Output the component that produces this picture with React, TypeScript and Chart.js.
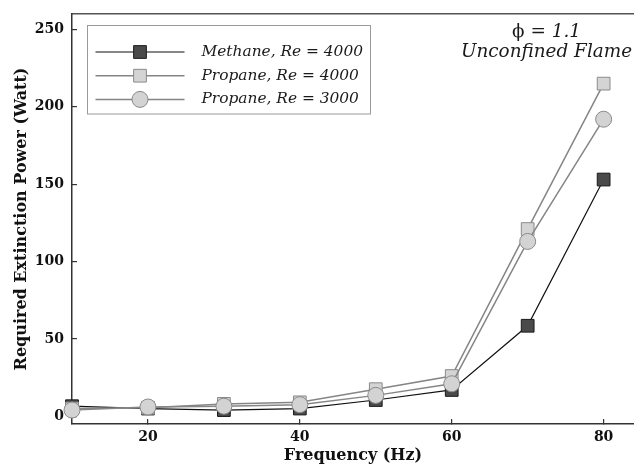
import React, { useEffect, useRef } from "react";
import { Chart, registerables } from "chart.js";

Chart.register(...registerables);

const frequencies = [10, 20, 30, 40, 50, 60, 70, 80];
const methaneRe4000 = [6.5, 5, 4, 5, 10.5, 17, 58.5, 153];
const propaneRe4000 = [5, 5.5, 8, 9, 17.5, 26, 121, 215];
const propaneRe3000 = [4, 6, 6.5, 7.5, 13.5, 21, 113, 192];
const seriesLabels = ["Methane, Re = 4000", "Propane, Re = 4000", "Propane, Re = 3000"];
const xTicks = [20, 40, 60, 80];
const yTicks = [0, 50, 100, 150, 200, 250];
const xTitle = "Frequency (Hz)";
const yTitle = "Required Extinction Power (Watt)";
const phiSymbol = "ϕ";
const phiValue = " = 1.1";
const flameNote = "Unconfined Flame";

const SERIF = "'DejaVu Serif', 'Liberation Serif', serif";

const toPoints = (ys: number[]) => frequencies.map((x, i) => ({ x, y: ys[i] }));

const zeroPad = (s: any) => {
  s.paddingLeft = 0;
  s.paddingRight = 0;
  s.paddingTop = 0;
  s.paddingBottom = 0;
};

const legendPlugin = {
  id: "boxLegend",
  afterDatasetsDraw(chart: any) {
    const { ctx, chartArea } = chart;
    const bx = chartArea.left + 15.5;
    const by = chartArea.top + 11.5;
    const bw = 283;
    const bh = 88.5;
    ctx.save();
    ctx.fillStyle = "#ffffff";
    ctx.fillRect(bx, by, bw, bh);
    ctx.strokeStyle = "#9a9a9a";
    ctx.lineWidth = 1;
    ctx.strokeRect(bx, by, bw, bh);
    chart.data.datasets.forEach((ds: any, i: number) => {
      const y = by + 26.5 + i * 23.7;
      ctx.strokeStyle = ds.borderColor;
      ctx.lineWidth = ds.borderWidth;
      ctx.beginPath();
      ctx.moveTo(bx + 8, y);
      ctx.lineTo(bx + 97, y);
      ctx.stroke();
      const mx = bx + 52.5;
      ctx.fillStyle = ds.pointBackgroundColor;
      ctx.strokeStyle = ds.pointBorderColor;
      ctx.lineWidth = ds.pointBorderWidth;
      ctx.beginPath();
      if (ds.pointStyle === "circle") {
        ctx.arc(mx, y, ds.pointRadius, 0, Math.PI * 2);
      } else {
        const s = ds.pointRadius * Math.SQRT1_2;
        ctx.rect(mx - s, y - s, 2 * s, 2 * s);
      }
      ctx.fill();
      ctx.stroke();
      ctx.fillStyle = "#1a1a1a";
      ctx.font = `italic 15.4px ${SERIF}`;
      ctx.textAlign = "left";
      ctx.textBaseline = "middle";
      ctx.fillText(ds.label, bx + 114, y);
    });
    ctx.restore();
  },
};

const notePlugin = {
  id: "note",
  afterDraw(chart: any) {
    const { ctx, chartArea } = chart;
    const cx = chartArea.right - 87.5;
    ctx.save();
    ctx.fillStyle = "#1a1a1a";
    ctx.textBaseline = "alphabetic";
    ctx.textAlign = "left";
    const fPhi = `18.4px ${SERIF}`;
    const fIt = `italic 18.4px ${SERIF}`;
    ctx.font = fPhi;
    const w1 = ctx.measureText(phiSymbol).width;
    ctx.font = fIt;
    const w2 = ctx.measureText(phiValue).width;
    const x0 = cx - (w1 + w2) / 2;
    const y1 = chartArea.top + 23;
    ctx.font = fPhi;
    ctx.fillText(phiSymbol, x0, y1);
    ctx.font = fIt;
    ctx.fillText(phiValue, x0 + w1, y1);
    ctx.textAlign = "center";
    ctx.fillText(flameNote, cx, chartArea.top + 43);
    ctx.restore();
  },
};

export default function App() {
  const ref = useRef<HTMLCanvasElement | null>(null);
  useEffect(() => {
    if (!ref.current) return;
    const axisColor = "#333333";
    const tickFont = { family: SERIF, size: 14, weight: "bold" as const };
    const titleFont = { family: SERIF, size: 16, weight: "bold" as const, lineHeight: 1.2 };
    const chart = new Chart(ref.current, {
      type: "line",
      data: {
        datasets: [
          {
            label: seriesLabels[0],
            data: toPoints(methaneRe4000),
            borderColor: "#111111",
            borderWidth: 1.2,
            pointStyle: "rect",
            pointRadius: 9,
            pointBackgroundColor: "#4a4a4a",
            pointBorderColor: "#1a1a1a",
            pointBorderWidth: 1,
            order: 2,
            clip: false,
          },
          {
            label: seriesLabels[1],
            data: toPoints(propaneRe4000),
            borderColor: "#858585",
            borderWidth: 1.5,
            pointStyle: "rect",
            pointRadius: 9,
            pointBackgroundColor: "#d4d4d4",
            pointBorderColor: "#8a8a8a",
            pointBorderWidth: 1,
            order: 1,
            clip: false,
          },
          {
            label: seriesLabels[2],
            data: toPoints(propaneRe3000),
            borderColor: "#858585",
            borderWidth: 1.5,
            pointStyle: "circle",
            pointRadius: 8,
            pointBackgroundColor: "#d3d3d3",
            pointBorderColor: "#8a8a8a",
            pointBorderWidth: 1,
            order: 0,
            clip: false,
          },
        ] as any,
      },
      options: {
        animation: false,
        responsive: false,
        devicePixelRatio: 1,
        layout: { autoPadding: false, padding: { top: 14, right: 0, left: 0, bottom: 0 } },
        elements: { line: { tension: 0 } },
        plugins: { legend: { display: false }, tooltip: { enabled: false } },
        scales: {
          x: {
            type: "linear",
            position: "bottom",
            min: 10,
            max: 84,
            afterFit: (s: any) => { s.height = 41; zeroPad(s); },
            afterBuildTicks: (s: any) => { s.ticks = xTicks.map((v) => ({ value: v })); },
            grid: { drawOnChartArea: false, tickLength: -5, color: axisColor, lineWidth: 1.2 },
            border: { color: axisColor, width: 1.5 },
            ticks: { font: tickFont, color: "#111111", padding: 10, maxRotation: 0 },
            title: { display: true, text: xTitle, font: titleFont, color: "#111111", padding: { top: 0, bottom: 0 } },
          },
          x2: {
            type: "linear",
            position: "top",
            min: 10,
            max: 84,
            afterFit: (s: any) => { s.height = 0; zeroPad(s); },
            grid: { drawOnChartArea: false, drawTicks: false },
            border: { color: "#555555", width: 1.5 },
            ticks: { display: false },
          },
          y: {
            type: "linear",
            position: "left",
            min: -5,
            max: 260,
            afterFit: (s: any) => { s.width = 72; zeroPad(s); },
            afterBuildTicks: (s: any) => { s.ticks = yTicks.map((v) => ({ value: v })); },
            grid: { drawOnChartArea: false, tickLength: -5, color: axisColor, lineWidth: 1.2 },
            border: { color: axisColor, width: 1.5 },
            ticks: { font: tickFont, color: "#111111", padding: 13 },
            title: { display: true, text: yTitle, font: titleFont, color: "#111111", padding: { top: 12, bottom: 0 } },
          },
        },
      } as any,
      plugins: [legendPlugin, notePlugin],
    });
    return () => chart.destroy();
  }, []);
  return (
    <div style={{ position: "absolute", left: 0, top: 0, width: 634, height: 465, background: "#fff" }}>
      <canvas ref={ref} width={634} height={465} style={{ display: "block" }} />
    </div>
  );
}
